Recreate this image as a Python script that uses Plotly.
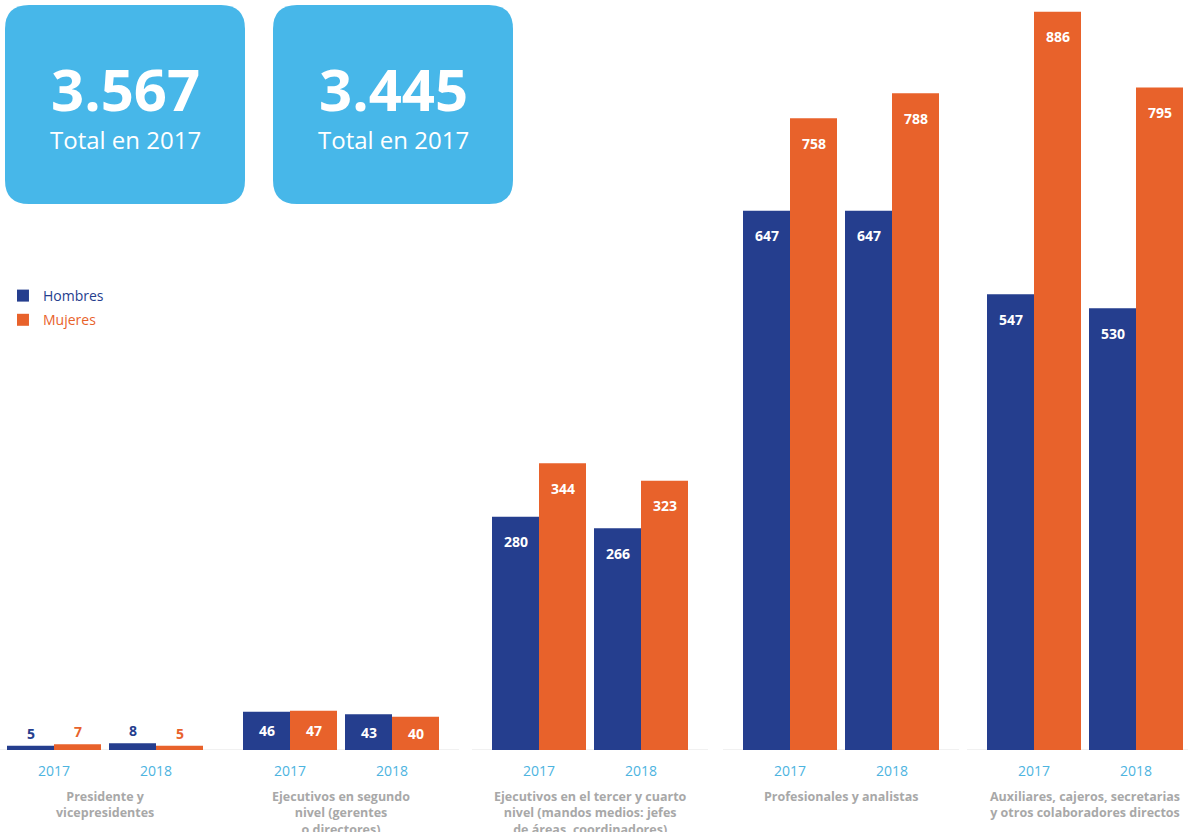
import plotly.graph_objects as go

# ---------------- data ----------------
categories = [
    "Presidente y<br>vicepresidentes",
    "Ejecutivos en segundo<br>nivel (gerentes<br>o directores)",
    "Ejecutivos en el tercer y cuarto<br>nivel (mandos medios: jefes<br>de áreas, coordinadores)",
    "Profesionales y analistas",
    "Auxiliares, cajeros, secretarias<br>y otros colaboradores directos",
]
years = ["2017", "2018"]
hombres_2017 = [5, 46, 280, 647, 547]
hombres_2018 = [8, 43, 266, 647, 530]
mujeres_2017 = [7, 47, 344, 758, 886]
mujeres_2018 = [5, 40, 323, 788, 795]
totals = ["3.567", "3.445"]
total_labels = ["Total en 2017", "Total en 2017"]

# ---------------- layout constants ----------------
W, H = 1188, 832
BASE_PX = 750          # pixel row of the baseline
YMAX = 900
group_centers = [105, 341, 590, 841, 1085]
year_offset = 51
bar_w = 47
BLUE = "#253e8e"
ORANGE = "#e8622b"
SKY = "#47b7e9"
YEAR_C = "#4db4df"
GRAY = "#a8a8a8"
FONT = "Open Sans"

def py2paper(py):
    return (BASE_PX - py) / BASE_PX

# x positions of each year pair
x_pos, h_vals, m_vals, tick_text = [], [], [], []
for g, c in enumerate(group_centers):
    for k, yr in enumerate(years):
        x_pos.append(c + (k * 2 - 1) * year_offset)
        h_vals.append([hombres_2017, hombres_2018][k][g])
        m_vals.append([mujeres_2017, mujeres_2018][k][g])
        tick_text.append(yr)

fig = go.Figure()
fig.add_trace(go.Bar(
    x=x_pos, y=h_vals, width=bar_w, offset=-bar_w,
    marker=dict(color=BLUE, line=dict(width=0)),
    name="<span style='color:%s'>Hombres</span>" % BLUE,
    legendgroup="h", hoverinfo="skip",
))
fig.add_trace(go.Bar(
    x=x_pos, y=m_vals, width=bar_w, offset=0,
    marker=dict(color=ORANGE, line=dict(width=0)),
    name="<span style='color:%s'>Mujeres</span>" % ORANGE,
    legendgroup="m", hoverinfo="skip",
))

annotations = []
px_per_unit = BASE_PX / YMAX
for vals, shift, col in ((h_vals, -bar_w / 2, BLUE), (m_vals, bar_w / 2, ORANGE)):
    for x, v in zip(x_pos, vals):
        hpx = v * px_per_unit
        if hpx >= 50:
            annotations.append(dict(x=x + shift, y=v, xref="x", yref="y",
                                    text="<b>%d</b>" % v, showarrow=False,
                                    yanchor="middle", yshift=-25,
                                    font=dict(color="white", size=14, family=FONT)))
        elif hpx >= 20:
            annotations.append(dict(x=x + shift, y=v / 2, xref="x", yref="y",
                                    text="<b>%d</b>" % v, showarrow=False,
                                    yanchor="middle",
                                    font=dict(color="white", size=14, family=FONT)))
        else:
            annotations.append(dict(x=x + shift, y=v, xref="x", yref="y",
                                    text="<b>%d</b>" % v, showarrow=False,
                                    yanchor="bottom", yshift=1,
                                    font=dict(color=col, size=14, family=FONT)))

# category labels
for c, cat in zip(group_centers, categories):
    annotations.append(dict(x=c, y=0, xref="x", yref="paper", yanchor="top",
                            yshift=-36, text="<b>%s</b>" % cat,
                            showarrow=False, align="center",
                            font=dict(color=GRAY, size=12.5, family=FONT)))

shapes = []
# faint baselines under each group
for c in group_centers:
    shapes.append(dict(type="line", xref="x", yref="y", x0=c - 118, x1=c + 118,
                       y0=0, y1=0, line=dict(color="#ececec", width=1.5),
                       layer="below"))

# rounded stat boxes
boxes = [(5, 245), (273, 513)]
top_px, bot_px, r = 5, 204, 24
for (x0, x1), big, small in zip(boxes, totals, total_labels):
    yt, yb = py2paper(top_px), py2paper(bot_px)
    ry = r / BASE_PX
    path = (f"M {x0+r},{yt} L {x1-r},{yt} Q {x1},{yt} {x1},{yt-ry} "
            f"L {x1},{yb+ry} Q {x1},{yb} {x1-r},{yb} "
            f"L {x0+r},{yb} Q {x0},{yb} {x0},{yb+ry} "
            f"L {x0},{yt-ry} Q {x0},{yt} {x0+r},{yt} Z")
    shapes.append(dict(type="path", xref="x", yref="paper", path=path,
                       fillcolor=SKY, line=dict(width=0), layer="above"))
    cx = (x0 + x1) / 2
    txt = ("<b><span style='font-size:58px'>%s</span></b><br>"
           "<span style='font-size:24px'>%s</span>" % (big, small))
    annotations.append(dict(x=cx, y=py2paper(102), xref="x", yref="paper",
                            text=txt, showarrow=False, yanchor="middle",
                            align="center",
                            font=dict(color="white", size=29, family=FONT)))

fig.update_layout(
    width=W, height=H,
    margin=dict(l=0, r=0, t=0, b=H - BASE_PX, pad=0),
    paper_bgcolor="white", plot_bgcolor="white",
    barmode="overlay",
    showlegend=True,
    legend=dict(x=0.0025, y=py2paper(280), xanchor="left", yanchor="top",
                font=dict(size=14, family=FONT), bgcolor="rgba(0,0,0,0)",
                itemwidth=30, tracegroupgap=3),
    xaxis=dict(range=[0, W], tickvals=x_pos, ticktext=tick_text,
               showgrid=False, zeroline=False, showline=False, ticks="",
               ticklabelstandoff=11,
               tickfont=dict(color=YEAR_C, size=14, family=FONT)),
    yaxis=dict(range=[0, YMAX], visible=False, showgrid=False, zeroline=False),
    annotations=annotations,
    shapes=shapes,
    font=dict(family=FONT),
)

fig.write_html("out.html",
               config={"displayModeBar": False},
               post_script="document.body.style.margin='0';"
                           "document.body.style.overflow='hidden';")
